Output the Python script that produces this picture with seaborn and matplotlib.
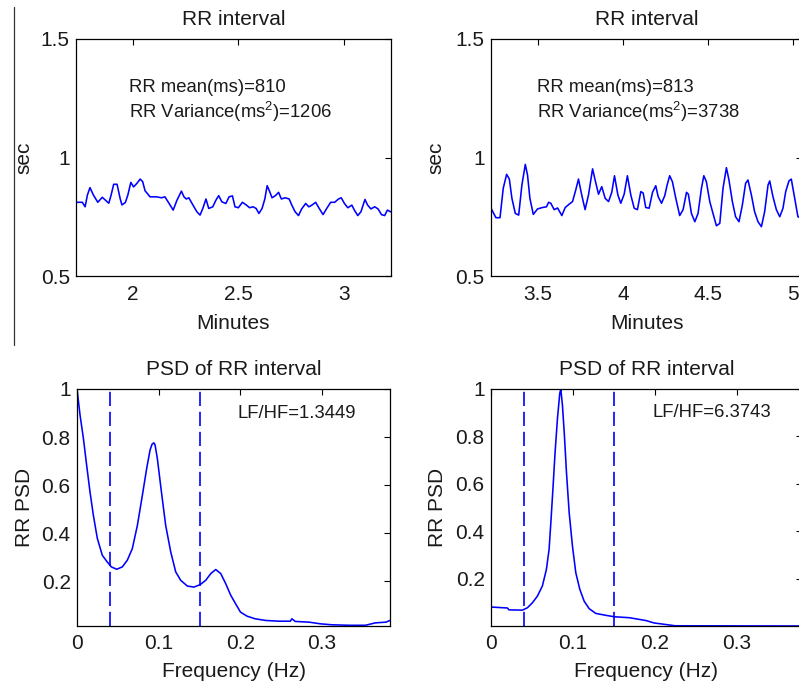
import matplotlib
matplotlib.use("Agg")
import matplotlib.pyplot as plt
from matplotlib.lines import Line2D
import seaborn as sns
import pandas as pd

# ---------------- data ----------------
rr1_minutes = [1.733, 1.763, 1.776, 1.787, 1.799, 1.815, 1.836, 1.857, 1.872, 1.888, 1.899, 1.911, 1.927,
               1.942, 1.950, 1.966, 1.978, 1.992, 2.005, 2.020, 2.036, 2.048, 2.059, 2.083, 2.114, 2.137,
               2.153, 2.168, 2.192, 2.210, 2.231, 2.243, 2.254, 2.266, 2.285, 2.304, 2.319, 2.332, 2.347,
               2.360, 2.379, 2.394, 2.407, 2.422, 2.441, 2.456, 2.472, 2.484, 2.500, 2.519, 2.537, 2.553,
               2.569, 2.584, 2.597, 2.612, 2.625, 2.636, 2.647, 2.659, 2.675, 2.690, 2.703, 2.721, 2.740,
               2.752, 2.768, 2.784, 2.799, 2.818, 2.833, 2.849, 2.865, 2.880, 2.900, 2.916, 2.936, 2.955,
               2.973, 2.986, 3.001, 3.017, 3.036, 3.048, 3.064, 3.079, 3.098, 3.110, 3.126, 3.144, 3.160,
               3.176, 3.191, 3.204, 3.221]
rr1_sec = [0.811, 0.811, 0.792, 0.842, 0.873, 0.842, 0.811, 0.832, 0.820, 0.807, 0.842, 0.887, 0.887,
           0.825, 0.800, 0.810, 0.842, 0.895, 0.876, 0.890, 0.909, 0.898, 0.860, 0.834, 0.834, 0.830,
           0.834, 0.813, 0.778, 0.820, 0.858, 0.834, 0.825, 0.830, 0.800, 0.771, 0.757, 0.785, 0.825,
           0.785, 0.792, 0.820, 0.839, 0.813, 0.806, 0.834, 0.838, 0.792, 0.788, 0.811, 0.800, 0.788,
           0.792, 0.785, 0.764, 0.785, 0.825, 0.881, 0.858, 0.830, 0.839, 0.853, 0.825, 0.830, 0.825,
           0.800, 0.771, 0.755, 0.783, 0.806, 0.792, 0.800, 0.811, 0.788, 0.759, 0.783, 0.811, 0.811,
           0.825, 0.830, 0.806, 0.788, 0.799, 0.778, 0.755, 0.771, 0.823, 0.800, 0.783, 0.792, 0.783,
           0.759, 0.755, 0.778, 0.770]

rr2_minutes = [3.222, 3.251, 3.275, 3.294, 3.314, 3.330, 3.345, 3.365, 3.385, 3.404, 3.424, 3.437, 3.451,
               3.471, 3.496, 3.525, 3.549, 3.561, 3.574, 3.594, 3.614, 3.639, 3.659, 3.682, 3.702, 3.721,
               3.737, 3.757, 3.776, 3.796, 3.820, 3.835, 3.855, 3.874, 3.894, 3.914, 3.933, 3.949, 3.969,
               3.986, 4.006, 4.025, 4.045, 4.065, 4.084, 4.104, 4.118, 4.133, 4.153, 4.173, 4.192, 4.206,
               4.226, 4.245, 4.259, 4.274, 4.290, 4.310, 4.333, 4.353, 4.373, 4.384, 4.402, 4.422, 4.441,
               4.461, 4.475, 4.490, 4.510, 4.529, 4.549, 4.569, 4.588, 4.608, 4.623, 4.643, 4.662, 4.682,
               4.702, 4.721, 4.735, 4.755, 4.774, 4.794, 4.814, 4.833, 4.853, 4.863, 4.882, 4.902, 4.922,
               4.941, 4.957, 4.976, 4.990, 5.010, 5.029, 5.045]
rr2_sec = [0.786, 0.746, 0.746, 0.870, 0.929, 0.909, 0.828, 0.764, 0.757, 0.884, 0.971, 0.926, 0.828,
           0.760, 0.783, 0.789, 0.792, 0.811, 0.807, 0.780, 0.787, 0.755, 0.789, 0.803, 0.814, 0.863,
           0.909, 0.839, 0.780, 0.842, 0.952, 0.905, 0.845, 0.877, 0.828, 0.814, 0.853, 0.923, 0.842,
           0.807, 0.845, 0.923, 0.842, 0.786, 0.780, 0.856, 0.850, 0.789, 0.786, 0.853, 0.881, 0.835,
           0.807, 0.839, 0.884, 0.923, 0.898, 0.828, 0.755, 0.780, 0.853, 0.845, 0.764, 0.729, 0.764,
           0.870, 0.923, 0.898, 0.814, 0.764, 0.712, 0.722, 0.870, 0.957, 0.905, 0.814, 0.750, 0.729,
           0.800, 0.891, 0.905, 0.842, 0.771, 0.729, 0.708, 0.771, 0.884, 0.901, 0.835, 0.780, 0.750,
           0.786, 0.856, 0.901, 0.909, 0.828, 0.750, 0.745]

psd1_freq = [0.0, 0.0037, 0.0078, 0.0118, 0.0159, 0.0200, 0.0249, 0.0310, 0.0371, 0.0420, 0.0486, 0.0555,
             0.0616, 0.0677, 0.0739, 0.0800, 0.0853, 0.0894, 0.0918, 0.0940, 0.0955, 0.0983, 0.1033,
             0.1085, 0.1147, 0.1208, 0.1269, 0.1351, 0.1432, 0.1506, 0.1575, 0.1637, 0.1698, 0.1759,
             0.1820, 0.1881, 0.194, 0.200, 0.208, 0.218, 0.231, 0.247, 0.261, 0.263, 0.267, 0.284, 0.298,
             0.312, 0.333, 0.353, 0.365, 0.378, 0.383]
psd1_power = [1.0, 0.892, 0.795, 0.683, 0.572, 0.475, 0.378, 0.308, 0.280, 0.260, 0.250, 0.260,
              0.288, 0.336, 0.433, 0.558, 0.670, 0.746, 0.770, 0.776, 0.768, 0.711, 0.572,
              0.433, 0.322, 0.239, 0.204, 0.180, 0.176, 0.186, 0.204, 0.232, 0.249, 0.232,
              0.190, 0.142, 0.107, 0.072, 0.055, 0.044, 0.037, 0.034, 0.034, 0.044, 0.033, 0.030, 0.023,
              0.019, 0.017, 0.017, 0.027, 0.030, 0.037]

psd2_freq = [0.0, 0.020, 0.022, 0.0384, 0.0445, 0.0506, 0.0567, 0.0628, 0.0677, 0.0710, 0.0734, 0.0759,
             0.0783, 0.0812, 0.0840, 0.0853, 0.0873, 0.0897, 0.0922, 0.0955, 0.0995, 0.1036, 0.1085,
             0.1138, 0.1200, 0.1281, 0.1404, 0.1506, 0.1690, 0.1894, 0.199, 0.225, 0.38]
psd2_power = [0.080, 0.076, 0.068, 0.067, 0.077, 0.098, 0.126, 0.169, 0.239, 0.324, 0.451, 0.592,
              0.733, 0.875, 0.981, 1.0, 0.931, 0.804, 0.649, 0.479, 0.338, 0.225, 0.155,
              0.105, 0.073, 0.053, 0.045, 0.039, 0.035, 0.023, 0.013, 0.001, 0.0]

band_edges = [0.04, 0.15]
rr_texts = [("RR mean(ms)=810", r"RR Variance(ms$^2$)=1206"),
            ("RR mean(ms)=813", r"RR Variance(ms$^2$)=3738")]
ratio_texts = ["LF/HF=1.3449", "LF/HF=6.3743"]

# ---------------- style ----------------
sns.set_theme(style="white")
plt.rcParams["font.family"] = ["Liberation Sans", "DejaVu Sans"]
plt.rcParams["mathtext.fontset"] = "custom"
plt.rcParams["mathtext.rm"] = "Liberation Sans"
plt.rcParams["mathtext.it"] = "Liberation Sans:italic"
plt.rcParams["mathtext.bf"] = "Liberation Sans:bold"

BLUE = "#0000ff"
TXT = "#1a1a1a"
W, H = 799.0, 689.0
FS = 15


def box(l, t, r, b):
    return [l / W, 1 - b / H, (r - l) / W, (b - t) / H]


fig = plt.figure(figsize=(7.99, 6.89), dpi=100)
ax_tl = fig.add_axes(box(76, 39, 391, 276))
ax_tr = fig.add_axes(box(491, 39, 802, 276))
ax_bl = fig.add_axes(box(77, 389, 390, 626))
ax_br = fig.add_axes(box(491, 389, 802, 626))


def style(ax, ylabpad, xlabpad, xpad):
    for s in ax.spines.values():
        s.set_visible(True)
        s.set_color("#000000")
        s.set_linewidth(0.9)
    ax.tick_params(direction="in", top=True, right=True, length=4, width=0.8,
                   labelsize=FS, colors="#000000", labelcolor=TXT)
    ax.tick_params(axis="x", pad=xpad)
    ax.tick_params(axis="y", pad=4.5)
    ax.yaxis.labelpad = ylabpad
    ax.xaxis.labelpad = xlabpad


# top panels
for ax, xs, ys, xlim, xt, xtl, texts, tx, lp in [
    (ax_tl, rr1_minutes, rr1_sec, (1.733, 3.221), [2, 2.5, 3], ["2", "2.5", "3"], rr_texts[0], 1.983, 5.5),
    (ax_tr, rr2_minutes, rr2_sec, (3.222, 5.053), [3.5, 4, 4.5, 5], ["3.5", "4", "4.5", "5"], rr_texts[1], 3.492, 7.0),
]:
    df = pd.DataFrame({"Minutes": xs, "sec": ys})
    sns.lineplot(data=df, x="Minutes", y="sec", ax=ax, color=BLUE, lw=1.15,
                 estimator=None, sort=False)
    ax.set_xlim(*xlim)
    ax.set_ylim(0.5, 1.5)
    ax.set_xticks(xt)
    ax.set_xticklabels(xtl)
    ax.set_yticks([0.5, 1, 1.5])
    ax.set_yticklabels(["0.5", "1", "1.5"])
    ax.set_xlabel("Minutes", fontsize=FS, color=TXT)
    ax.set_ylabel("sec", fontsize=FS, color=TXT)
    ax.set_title("RR interval", fontsize=FS, color=TXT, pad=10)
    ax.text(tx, 1.295, texts[0], fontsize=13.3, color=TXT, ha="left", va="center")
    ax.text(tx, 1.193, texts[1], fontsize=13.3, color=TXT, ha="left", va="center")
    style(ax, lp, 7.5, 6.5)

# bottom panels
for ax, xs, ys, xlim, ylim, ratio, lp in [
    (ax_bl, psd1_freq, psd1_power, (0, 0.383), (0.014, 1.0), ratio_texts[0], 5.5),
    (ax_br, psd2_freq, psd2_power, (0, 0.38), (0.0, 1.0), ratio_texts[1], 6.5),
]:
    df = pd.DataFrame({"Frequency (Hz)": xs, "RR PSD": ys})
    sns.lineplot(data=df, x="Frequency (Hz)", y="RR PSD", ax=ax, color=BLUE, lw=1.15,
                 estimator=None, sort=False)
    for b in band_edges:
        ax.axvline(b, color=BLUE, lw=1.2, dashes=(8.5, 3.5))
    ax.set_xlim(*xlim)
    ax.set_ylim(*ylim)
    ax.set_xticks([0, 0.1, 0.2, 0.3])
    ax.set_xticklabels(["0", "0.1", "0.2", "0.3"])
    ax.set_yticks([0.2, 0.4, 0.6, 0.8, 1.0])
    ax.set_yticklabels(["0.2", "0.4", "0.6", "0.8", "1"])
    ax.set_xlabel("Frequency (Hz)", fontsize=FS, color=TXT)
    ax.set_ylabel("RR PSD", fontsize=FS, color=TXT)
    ax.set_title("PSD of RR interval", fontsize=FS, color=TXT, pad=10)
    ax.text(0.197, 0.90, ratio, fontsize=13.3, color=TXT, ha="left", va="center")
    style(ax, lp, 6.5, 6.0)

# stray left border line seen in the source image
fig.add_artist(Line2D([14 / W, 14 / W], [1 - 7 / H, 1 - 345 / H], color="#333333", lw=0.9))

fig.savefig("out.png", dpi=100)
